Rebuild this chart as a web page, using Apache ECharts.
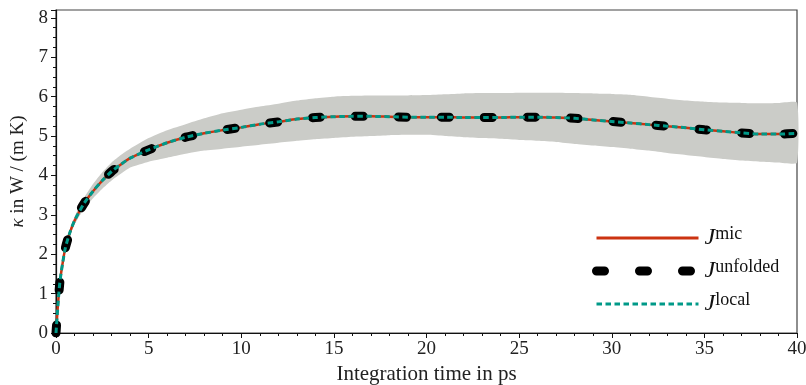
<!DOCTYPE html>
<html>
<head>
<meta charset="utf-8">
<script src="https://cdn.jsdelivr.net/npm/echarts@6/dist/echarts.min.js"></script>
<style>html,body{margin:0;padding:0;background:#fff;}#c{width:806px;height:385px;}</style>
</head>
<body>
<div id="c"></div>
<script>
// Integration time in ps
var timePs = [0, 0.1, 0.2, 0.3, 0.5, 0.75, 1, 1.5, 2, 2.5, 3, 3.5, 4, 5, 6, 7, 8, 9, 10,
  11, 12, 13, 14, 15, 16, 17, 18, 19, 20, 21, 22, 23, 24, 25, 26, 27, 28, 29, 30,
  31, 32, 33, 34, 35, 36, 37, 38, 39, 40];
// kappa (mean) in W/(m K) - the three estimators overlap
var kappaMic = [0, 0.68, 1.25, 1.6, 2.15, 2.55, 2.85, 3.28, 3.6, 3.87, 4.1, 4.28, 4.44, 4.65, 4.83, 4.97, 5.07, 5.15, 5.22,
  5.3, 5.36, 5.43, 5.47, 5.49, 5.5, 5.5, 5.49, 5.48, 5.48, 5.48, 5.47, 5.47, 5.47, 5.48, 5.48, 5.47, 5.45, 5.41, 5.37,
  5.33, 5.29, 5.25, 5.21, 5.16, 5.12, 5.08, 5.05, 5.05, 5.07];
var kappaUnfolded = [0, 0.68, 1.25, 1.6, 2.15, 2.55, 2.85, 3.28, 3.6, 3.87, 4.1, 4.28, 4.44, 4.65, 4.83, 4.97, 5.07, 5.15, 5.22,
  5.3, 5.36, 5.43, 5.47, 5.49, 5.5, 5.5, 5.49, 5.48, 5.48, 5.48, 5.47, 5.47, 5.47, 5.48, 5.48, 5.47, 5.45, 5.41, 5.37,
  5.33, 5.29, 5.25, 5.21, 5.16, 5.12, 5.08, 5.05, 5.05, 5.07];
var kappaLocal = [0, 0.68, 1.25, 1.6, 2.15, 2.55, 2.85, 3.28, 3.6, 3.87, 4.1, 4.28, 4.44, 4.65, 4.83, 4.97, 5.07, 5.15, 5.22,
  5.3, 5.36, 5.43, 5.47, 5.49, 5.5, 5.5, 5.49, 5.48, 5.48, 5.48, 5.47, 5.47, 5.47, 5.48, 5.48, 5.47, 5.45, 5.41, 5.37,
  5.33, 5.29, 5.25, 5.21, 5.16, 5.12, 5.08, 5.05, 5.05, 5.07];
// uncertainty band
var bandUpper = [0, 0.7, 1.28, 1.63, 2.2, 2.62, 2.95, 3.42, 3.78, 4.08, 4.33, 4.52, 4.68, 4.95, 5.15, 5.3, 5.45, 5.58, 5.67,
  5.75, 5.82, 5.9, 5.96, 6.0, 6.02, 6.03, 6.03, 6.03, 6.04, 6.06, 6.08, 6.09, 6.09, 6.1, 6.1, 6.1, 6.09, 6.08, 6.07,
  6.05, 6.0, 5.95, 5.9, 5.87, 5.85, 5.84, 5.83, 5.84, 5.85];
var bandLower = [0, 0.66, 1.22, 1.57, 2.1, 2.48, 2.75, 3.14, 3.42, 3.66, 3.87, 4.04, 4.2, 4.35, 4.45, 4.55, 4.63, 4.68, 4.73,
  4.78, 4.83, 4.88, 4.92, 4.95, 4.98, 5.0, 5.02, 5.03, 5.03, 5.0, 4.97, 4.95, 4.93, 4.9, 4.88, 4.85, 4.8, 4.76, 4.72,
  4.68, 4.63, 4.57, 4.52, 4.47, 4.42, 4.38, 4.35, 4.33, 4.32];
var xTicks = [0, 5, 10, 15, 20, 25, 30, 35, 40];
var yTicks = [0, 1, 2, 3, 4, 5, 6, 7, 8];

var FONT = 'Liberation Serif';
var chart = echarts.init(document.getElementById('c'), null, {renderer: 'canvas'});

function pairs(ys) { return timePs.map(function (t, i) { return [t, ys[i]]; }); }

var bandData = timePs.map(function (t, i) { return [t, bandLower[i], bandUpper[i]]; });

var option = {
  animation: false,
  grid: {left: 56, right: 9, top: 10, bottom: 52, show: true, borderColor: '#444', borderWidth: 1.2,
    containLabel: false, outerBoundsMode: 'none'},
  xAxis: {
    type: 'value', min: xTicks[0], max: xTicks[xTicks.length - 1], interval: 5,
    name: 'Integration time in ps', nameLocation: 'middle', nameGap: 31,
    nameTextStyle: {fontFamily: FONT, fontSize: 21, color: '#222'},
    axisLine: {lineStyle: {color: '#111', width: 1.2}},
    axisTick: {show: true, length: 5, lineStyle: {color: '#111'}},
    minorTick: {show: true, splitNumber: 5, length: 3, lineStyle: {color: '#111'}},
    splitLine: {show: false},
    axisLabel: {fontFamily: FONT, fontSize: 19, color: '#222', margin: 7}
  },
  yAxis: {
    type: 'value', min: yTicks[0], max: 8.2, interval: 1,
    name: '{i|κ} in W / (m K)', nameLocation: 'middle', nameGap: 21, nameRotate: 90,
    nameTextStyle: {fontFamily: FONT, fontSize: 19, color: '#222',
      rich: {i: {fontFamily: FONT, fontSize: 19, fontStyle: 'italic', color: '#222'}}},
    axisLine: {show: true, lineStyle: {color: '#111', width: 1.2}},
    axisTick: {show: true, length: 5, lineStyle: {color: '#111'}},
    minorTick: {show: true, splitNumber: 4, length: 3, lineStyle: {color: '#111'}},
    splitLine: {show: false},
    axisLabel: {fontFamily: FONT, fontSize: 19, color: '#222', margin: 8, showMaxLabel: false,
      formatter: function (v) { return yTicks.indexOf(v) >= 0 ? String(v) : ''; }}
  },
  legend: {
    orient: 'vertical', left: 587, top: 220, itemWidth: 102, itemHeight: 12, itemGap: 8,
    itemStyle: {opacity: 0},
    textStyle: {fontFamily: FONT, color: '#111', padding: [0, 0, 0, 1],
      rich: {
        j: {fontFamily: FONT, fontSize: 24, fontStyle: 'italic', color: '#111', lineHeight: 26, verticalAlign: 'middle'},
        s: {fontFamily: FONT, fontSize: 18, color: '#111', lineHeight: 16, verticalAlign: 'top'}
      }},
    formatter: function (name) { return '{j|J}{s|' + name + '}'; },
    data: [
      {name: 'mic', lineStyle: {width: 3}, itemStyle: {opacity: 0}},
      {name: 'unfolded', lineStyle: {width: 9, cap: 'round'}, itemStyle: {opacity: 0}},
      {name: 'local', lineStyle: {width: 3}, itemStyle: {opacity: 0}}
    ]
  },
  series: [
    {
      type: 'custom', name: 'band', silent: true,
      data: bandData, encode: {x: 0, y: [1, 2]},
      renderItem: function (params, api) {
        if (params.dataIndex !== 0) return null;
        var pts = [];
        for (var i = 0; i < bandData.length; i++) pts.push(api.coord([bandData[i][0], bandData[i][2]]));
        for (var j = bandData.length - 1; j >= 0; j--) pts.push(api.coord([bandData[j][0], bandData[j][1]]));
        return {type: 'polygon', shape: {points: pts, smooth: 0.15}, style: {fill: '#cbccc8'}};
      },
      z: 1
    },
    {
      type: 'line', name: 'mic', data: pairs(kappaMic), showSymbol: false, symbol: 'none', smooth: 0.25,
      lineStyle: {color: '#CC3311', width: 2.5}, itemStyle: {color: '#CC3311'}, z: 2
    },
    {
      type: 'line', name: 'unfolded', data: pairs(kappaUnfolded), showSymbol: false, symbol: 'none', smooth: 0.25,
      lineStyle: {color: '#000000', width: 9, type: [8, 35], cap: 'round'}, itemStyle: {color: '#000000'}, z: 3
    },
    {
      type: 'line', name: 'local', data: pairs(kappaLocal), showSymbol: false, symbol: 'none', smooth: 0.25,
      lineStyle: {color: '#009988', width: 3, type: [5.5, 3.5]}, itemStyle: {color: '#009988'}, z: 4
    }
  ]
};
chart.setOption(option);
</script>
</body>
</html>
